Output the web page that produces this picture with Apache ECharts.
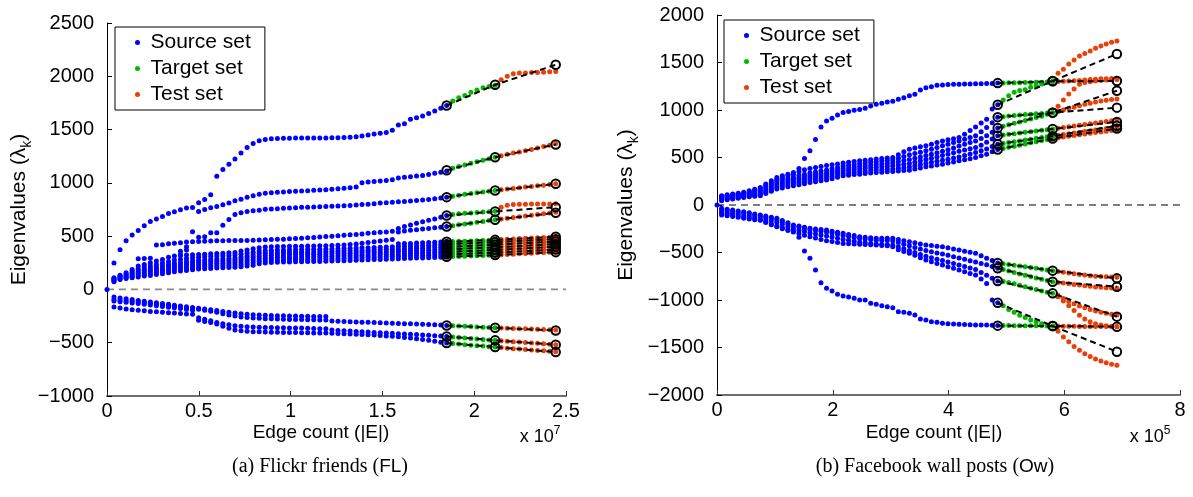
<!DOCTYPE html>
<html><head><meta charset="utf-8">
<script src="https://cdn.jsdelivr.net/npm/echarts@6/dist/echarts.min.js"></script>
<style>html,body{margin:0;padding:0;background:#fff}#c{width:1193px;height:497px}</style>
</head><body><div id="c"></div>
<script>
function pad(n, arr){ return Array(n).fill(null).concat(arr); }

// ---------------- (a) Flickr friends (FL) ----------------
const FL_SRC_X = [0.038,0.071,0.104,0.137,0.170,0.203,0.236,0.269,0.302,0.335,0.367,0.400,0.433,0.466,0.499,0.532,0.565,0.598,0.631,0.664,0.697,0.730,0.763,0.796,0.829,0.862,0.895,0.928,0.961,0.994,1.027,1.060,1.093,1.126,1.159,1.192,1.225,1.258,1.291,1.324,1.357,1.389,1.422,1.455,1.488,1.521,1.554,1.587,1.620,1.653,1.686,1.719,1.752,1.785,1.818,1.850];
const FL_TGT_X = [1.883,1.916,1.949,1.982,2.015,2.048,2.081,2.114];
const FL_TEST_X = [2.147,2.180,2.213,2.246,2.279,2.312,2.345,2.378,2.411,2.444];
const FL_PRED_X = [1.850,2.114,2.444];

const FL_L1_SRC = [247,372,457,510,553,597,638,660,685,713,728,747,763,769,813,844,888,1063,1125,1175,1225,1281,1331,1369,1394,1406,1413,1416,1418,1419,1420,1420,1421,1421,1422,1422,1423,1424,1425,1428,1432,1440,1450,1458,1465,1472,1494,1544,1555,1597,1612,1628,1650,1675,1700,1725];
const FL_L1_TGT = [1767,1798,1820,1850,1872,1892,1905,1915];
const FL_L1_TEST = [1967,2001,2023,2030,2030,2036,2036,2039,2042,2045];
const FL_L1_PRED = [1726,1920,2108];

const FL_L2_SRC = pad(14,[732,750,766,779,794,810,831,847,866,878,894,903,906,912,915,918,921,924,927,930,933,936,940,944,950,955,960,1000,1007,1012,1017,1022,1030,1045,1052,1058,1064,1070,1078,1090,1100,1112]);
const FL_L2_TGT = [1138,1153,1168,1183,1198,1212,1226,1240];
const FL_L2_TEST = [1255,1268,1280,1290,1302,1314,1326,1340,1354,1366];
const FL_L2_PRED = [1118,1241,1360];

const FL_L3_SRC = pad(11,[359,400,541,490,494,531,531,603,656,703,719,731,738,744,752,755,758,761,764,767,770,772,774,776,778,780,782,785,788,792,796,800,805,810,814,818,822,826,830,835,840,845,851,858,866]);
const FL_L3_TGT = [875,884,892,900,908,915,922,929];
const FL_L3_TEST = [936,942,948,954,960,966,972,978,985,992];
const FL_L3_PRED = [866,929,991];

const FL_G_SRC = pad(11,[328,369]);

const FL_L4_SRC = pad(4,[288,290,292,416,419,428,434,438,444,447,450,453,455,456,457,458,458,459,460,462,464,466,468,470,472,475,478,481,484,488,492,496,500,504,508,512,516,521,526,531,536,540,545,572,590,605,620,634,648,662,678,694]);
const FL_L4_TGT = [704,710,714,718,722,726,730,734];
const FL_L4_TEST = [770,790,797,800,800,801,801,802,802,803];
const FL_L4_PRED = [694,732,772];

const FL_L5_SRC = [109,134,156,188,219,234,250,266,281,303,313,319,322,325,328,331,334,337,340,343,346,360,369,381,391,397,400,402,403,404,405,406,407,408,409,410,412,415,418,422,426,433,440,447,454,461,469,540,548,555,560,566,572,578,584,590];
const FL_L5_TGT = [598,606,614,622,630,638,646,654];
const FL_L5_TEST = [662,669,676,683,690,697,704,711,718,725];
const FL_L5_PRED = [590,654,719];

const FL_B1_SRC = [72,94,103,109,116,125,131,141,147,156,166,172,178,184,191,194,197,200,203,206,209,213,219,228,241,247,253,255,257,258,259,260,261,262,263,264,266,268,270,272,274,276,278,280,282,284,286,288,290,292,294,296,298,300,303,306];
const FL_B1_TGT = [308,310,312,314,316,318,320,322];
const FL_B1_TEST = [325,328,331,334,337,340,343,346,349,352];
const FL_B1_PRED = [306,322,350];
const FL_B2_SRC = [80,100,112,120,130,140,148,158,166,176,186,193,199,205,211,215,219,222,225,228,231,235,242,252,264,270,275,277,279,281,282,283,284,285,286,287,289,291,293,295,297,299,301,303,305,307,309,311,313,315,317,319,321,323,326,329];
const FL_B2_TGT = [331,333,335,337,339,341,343,345];
const FL_B2_TEST = [348,351,355,358,362,365,369,372,375,378];
const FL_B2_PRED = [329,345,375];
const FL_B3_SRC = [88,108,122,133,145,156,165,175,184,195,205,213,220,226,232,236,240,243,246,249,252,257,265,276,288,293,297,299,301,303,304,305,306,307,308,309,311,313,315,317,319,321,323,325,327,329,331,333,335,337,339,341,343,346,349,352];
const FL_B3_TGT = [354,356,358,361,363,365,368,370];
const FL_B3_TEST = [373,376,380,384,388,391,395,399,402,405];
const FL_B3_PRED = [352,370,400];
const FL_B4_SRC = [95,116,132,146,160,172,182,192,202,214,226,234,241,247,253,257,261,264,267,270,274,280,288,300,312,317,320,322,324,326,327,328,329,330,331,332,334,336,338,340,342,344,346,348,350,352,354,356,358,360,362,364,367,370,373,376];
const FL_B4_TGT = [378,381,383,386,388,390,393,395];
const FL_B4_TEST = [398,402,406,410,414,418,421,424,427,430];
const FL_B4_PRED = [376,395,425];
const FL_B5_SRC = [102,124,144,160,176,190,200,211,222,234,246,255,262,268,274,278,282,285,288,291,296,303,312,324,336,340,343,345,347,348,349,350,351,352,353,354,356,358,360,362,364,366,368,370,372,374,376,378,380,382,384,387,390,393,396,399];
const FL_B5_TGT = [402,404,407,410,412,415,418,420];
const FL_B5_TEST = [424,428,432,436,440,444,447,450,453,456];
const FL_B5_PRED = [399,420,450];
const FL_B6_SRC = pad(3,[172,195,210,222,235,248,262,276,284,291,297,302,306,310,313,316,319,324,330,340,350,360,364,367,369,371,372,373,374,375,376,377,378,380,382,384,386,388,390,392,394,396,398,400,402,404,406,408,411,414,417,420,423]);
const FL_B6_TGT = [426,429,431,434,437,440,442,445];
const FL_B6_TEST = [449,453,457,461,464,467,470,472,474,476];
const FL_B6_PRED = [423,445,472];
const FL_B7_SRC = pad(47,[428,430,432,435,437,440,442,445,447]);
const FL_B7_TGT = [449,451,453,455,457,459,462,465];
const FL_B7_TEST = [468,471,474,477,480,483,485,487,489,491];
const FL_B7_PRED = [447,465,494];

const FL_N1_SRC = [-72,-80,-88,-95,-103,-110,-117,-124,-131,-140,-148,-155,-162,-170,-176,-183,-190,-198,-206,-214,-222,-228,-233,-237,-240,-242,-244,-246,-248,-249,-250,-251,-252,-253,-254,-254];
const FL_N2_SRC = [-94,-100,-106,-112,-118,-124,-130,-136,-142,-150,-158,-166,-174,-180,-186,-195,-205,-215,-228,-240,-250,-258,-264,-268,-271,-274,-276,-278,-280,-281,-282,-283,-284,-285,-286,-287,-297,-299,-301,-303,-305,-307,-309,-311,-313,-315,-317,-319,-321,-323,-325,-327,-329,-331,-334,-338];
const FL_N2_TGT = [-340,-343,-346,-349,-352,-355,-358,-360];
const FL_N2_TEST = [-362,-364,-366,-368,-370,-372,-374,-376,-378,-380];
const FL_N2_PRED = [-338,-360,-385];
const FL_N3_SRC = [-109,-115,-121,-127,-133,-140,-147,-154,-160,-167,-173,-180,-188,-196,-265,-280,-295,-310,-322,-332,-340,-346,-350,-353,-355,-357,-358,-359,-360,-361,-362,-363,-364,-366,-368,-370,-380,-385,-388,-391,-394,-397,-400,-403,-406,-409,-412,-415,-418,-421,-424,-427,-430,-434,-438,-441];
const FL_N3_TGT = [-446,-451,-456,-461,-466,-471,-475,-478];
const FL_N3_TEST = [-482,-486,-490,-494,-498,-502,-506,-510,-514,-518];
const FL_N3_PRED = [-441,-478,-519];
const FL_N4_SRC = [-166,-175,-184,-190,-196,-201,-206,-210,-214,-218,-222,-226,-230,-234,-290,-300,-310,-325,-345,-365,-380,-388,-393,-396,-398,-400,-401,-402,-403,-404,-405,-406,-407,-408,-409,-410,-412,-414,-416,-418,-420,-422,-425,-428,-432,-436,-440,-445,-450,-455,-462,-470,-478,-486,-495,-503];
const FL_N4_TGT = [-508,-513,-518,-523,-528,-532,-537,-541];
const FL_N4_TEST = [-546,-551,-556,-560,-564,-568,-572,-576,-580,-584];
const FL_N4_PRED = [-503,-541,-588];

const FL_TRACKS = [
  [FL_L1_SRC,FL_L1_TGT,FL_L1_TEST,FL_L1_PRED],
  [FL_L2_SRC,FL_L2_TGT,FL_L2_TEST,FL_L2_PRED],
  [FL_L3_SRC,FL_L3_TGT,FL_L3_TEST,FL_L3_PRED],
  [FL_G_SRC,null,null,null],
  [FL_L4_SRC,FL_L4_TGT,FL_L4_TEST,FL_L4_PRED],
  [FL_L5_SRC,FL_L5_TGT,FL_L5_TEST,FL_L5_PRED],
  [FL_B1_SRC,FL_B1_TGT,FL_B1_TEST,FL_B1_PRED],
  [FL_B2_SRC,FL_B2_TGT,FL_B2_TEST,FL_B2_PRED],
  [FL_B3_SRC,FL_B3_TGT,FL_B3_TEST,FL_B3_PRED],
  [FL_B4_SRC,FL_B4_TGT,FL_B4_TEST,FL_B4_PRED],
  [FL_B5_SRC,FL_B5_TGT,FL_B5_TEST,FL_B5_PRED],
  [FL_B6_SRC,FL_B6_TGT,FL_B6_TEST,FL_B6_PRED],
  [FL_B7_SRC,FL_B7_TGT,FL_B7_TEST,FL_B7_PRED],
  [FL_N1_SRC,null,null,null],
  [FL_N2_SRC,FL_N2_TGT,FL_N2_TEST,FL_N2_PRED],
  [FL_N3_SRC,FL_N3_TGT,FL_N3_TEST,FL_N3_PRED],
  [FL_N4_SRC,FL_N4_TGT,FL_N4_TEST,FL_N4_PRED]
];

// ---------------- (b) Facebook wall posts (Ow) ----------------
const OW_SRC_X = [0.080,0.175,0.271,0.366,0.462,0.557,0.652,0.748,0.843,0.939,1.034,1.129,1.225,1.320,1.416,1.511,1.606,1.702,1.797,1.893,1.988,2.083,2.179,2.274,2.370,2.465,2.560,2.656,2.751,2.847,2.942,3.037,3.133,3.228,3.324,3.419,3.514,3.610,3.705,3.801,3.896,3.991,4.087,4.182,4.278,4.373,4.468,4.564,4.659,4.755,4.850];
const OW_TGT_X = [4.945,5.040,5.135,5.230,5.325,5.420,5.515,5.610,5.705,5.800];
const OW_TEST_X = [5.893,5.985,6.078,6.170,6.263,6.355,6.448,6.540,6.633,6.725,6.818,6.910];
const OW_PRED_X = [4.850,5.800,6.910];

const OW_RA_SRC = [98,108,116,125,133,150,167,185,220,255,290,308,325,343,385,490,570,690,822,885,913,948,973,983,997,1004,1018,1043,1060,1071,1085,1092,1113,1130,1151,1165,1211,1235,1246,1260,1263,1268,1270,1272,1274,1275,1276,1277,1278,1280,1283];
const OW_RA_TGT = [1284,1286,1287,1288,1289,1290,1291,1293,1296,1300];
const OW_RA_TEST = [1300,1302,1305,1308,1311,1315,1320,1325,1328,1330,1332,1333];
const OW_RA_PRED = [1283,1302,1305];

const OW_P6_SRC = [90,100,108,116,124,140,156,172,205,238,270,290,308,325,350,370,385,395,405,415,425,432,441,449,457,465,471,477,483,489,495,500,530,560,588,600,612,623,640,658,675,686,698,710,745,785,822,862,903,1010,1055];
const OW_P6_TGT = [1105,1150,1186,1204,1214,1239,1256,1274,1291,1305];
const OW_P6_TEST = [1386,1428,1484,1526,1568,1596,1621,1649,1673,1695,1712,1726];
const OW_P6_PRED = [1055,1305,1590];

const OW_P5_SRC = [86,94,102,110,118,130,142,155,186,220,256,268,280,292,310,325,338,348,358,368,382,396,410,418,426,435,442,449,456,462,468,474,492,510,528,542,556,570,588,606,623,640,658,675,692,710,728,770,815,865,925];
const OW_P5_TGT = [930,936,942,947,952,956,960,964,968,972];
const OW_P5_TEST = [1040,1105,1168,1221,1270,1290,1298,1305,1310,1315,1318,1320];
const OW_P5_PRED = [925,972,1025];

const OW_P4_SRC = [76,84,92,100,108,118,128,138,168,200,234,246,258,270,285,298,310,320,330,340,354,368,382,390,398,405,412,419,426,432,438,444,455,468,480,493,506,520,535,550,565,582,600,620,640,658,675,700,730,765,810];
const OW_P4_TGT = [830,845,860,875,890,905,920,935,955,972];
const OW_P4_TEST = [985,1000,1015,1030,1045,1060,1072,1085,1095,1103,1110,1115];
const OW_P4_PRED = [810,972,1203];

const OW_P3_SRC = [66,74,82,90,98,106,114,122,150,180,212,224,236,248,262,274,286,296,306,316,330,344,358,365,372,380,386,392,398,403,408,413,420,428,436,450,465,480,493,506,520,535,550,565,580,592,605,630,660,695,730];
const OW_P3_TGT = [737,744,751,758,765,772,779,786,793,800];
const OW_P3_TEST = [808,816,824,832,840,848,856,864,872,880,888,896];
const OW_P3_PRED = [730,800,875];

const OW_P2_SRC = [56,64,72,80,88,95,102,110,135,162,190,202,214,226,238,250,262,271,280,289,303,318,332,338,344,350,356,362,368,372,376,380,386,393,400,413,426,440,450,460,470,482,494,506,520,536,553,570,590,615,640];
const OW_P2_TGT = [648,657,666,675,684,693,702,710,718,725];
const OW_P2_TEST = [733,741,749,757,765,773,781,789,797,805,813,820];
const OW_P2_PRED = [640,725,835];

const OW_P1_SRC = [46,55,63,72,80,86,92,98,120,145,168,180,192,203,213,225,238,246,254,262,277,292,308,314,320,325,331,337,343,346,350,353,357,362,367,378,390,402,411,420,430,442,453,465,477,488,500,518,535,560,585];
const OW_P1_TGT = [596,607,618,630,642,654,666,678,690,700];
const OW_P1_TEST = [708,716,724,732,740,748,755,762,769,776,783,790];
const OW_P1_PRED = [585,700,805];

const OW_Q1_SRC = [-35,-44,-53,-62,-70,-82,-94,-105,-117,-128,-140,-163,-187,-210,-222,-234,-246,-252,-258,-263,-275,-287,-298,-310,-322,-333,-339,-345,-351,-351,-351,-351,-363,-375,-386,-398,-410,-421,-427,-433,-439,-451,-463,-474,-486,-498,-509,-535,-561,-585,-610];
const OW_Q1_TGT = [-618,-626,-634,-642,-650,-658,-667,-675,-683,-691];
const OW_Q1_TEST = [-700,-708,-716,-724,-731,-738,-744,-749,-753,-756,-758,-760];
const OW_Q1_PRED = [-610,-691,-772];

const OW_Q2_SRC = [-50,-58,-66,-74,-82,-93,-104,-115,-128,-141,-155,-177,-199,-222,-235,-248,-260,-268,-276,-284,-296,-308,-320,-331,-342,-352,-358,-364,-370,-372,-374,-377,-395,-413,-430,-447,-463,-480,-492,-504,-516,-530,-544,-558,-572,-586,-600,-615,-630,-648,-665];
const OW_Q2_TGT = [-680,-695,-710,-725,-740,-755,-768,-781,-794,-807];
const OW_Q2_TEST = [-815,-822,-829,-836,-843,-850,-856,-862,-867,-871,-874,-877];
const OW_Q2_PRED = [-665,-807,-860];

const OW_Q3_SRC = [-70,-78,-86,-94,-105,-116,-127,-138,-152,-167,-182,-205,-228,-250,-265,-280,-295,-305,-315,-325,-337,-350,-362,-372,-382,-392,-398,-404,-410,-414,-418,-422,-440,-460,-480,-500,-520,-540,-555,-570,-585,-600,-616,-632,-648,-664,-680,-710,-740,-770,-800];
const OW_Q3_TGT = [-805,-815,-830,-845,-860,-875,-890,-905,-918,-930];
const OW_Q3_TEST = [-965,-1010,-1060,-1110,-1160,-1200,-1230,-1250,-1262,-1270,-1275,-1278];
const OW_Q3_PRED = [-800,-930,-1175];
const OW_Q3B_TEST = [-950,-985,-1015,-1040,-1062,-1082,-1100,-1115,-1128,-1140,-1150,-1158];

const OW_Q4_SRC = [-90,-98,-106,-114,-125,-135,-145,-155,-175,-200,-222,-240,-258,-275,-300,-318,-333,-348,-362,-375,-385,-394,-404,-408,-411,-414,-417,-419,-421,-425,-430,-439,-470,-490,-509,-530,-555,-579,-597,-615,-632,-650,-667,-684,-702,-720,-737,-780,-825,-1000,-1030];
const OW_Q4_TGT = [-1060,-1100,-1130,-1160,-1185,-1210,-1230,-1250,-1265,-1274];
const OW_Q4_TEST = [-1330,-1390,-1440,-1490,-1530,-1565,-1595,-1620,-1643,-1660,-1675,-1688];
const OW_Q4_PRED = [-1030,-1274,-1544];

const OW_RN_SRC = [-105,-112,-120,-130,-140,-148,-155,-160,-185,-208,-230,-250,-268,-285,-340,-484,-561,-684,-818,-877,-905,-940,-958,-968,-982,-1000,-1000,-1035,-1046,-1060,-1070,-1081,-1123,-1130,-1140,-1158,-1200,-1211,-1228,-1235,-1246,-1249,-1253,-1256,-1258,-1260,-1262,-1263,-1264,-1265,-1268];
const OW_RN_TGT = [-1268,-1269,-1270,-1270,-1271,-1271,-1272,-1272,-1273,-1274];
const OW_RN_TEST = [-1275,-1276,-1277,-1277,-1278,-1278,-1279,-1279,-1280,-1280,-1281,-1281];
const OW_RN_PRED = [-1270,-1274,-1281];

const OW_TRACKS = [
  [OW_RA_SRC,OW_RA_TGT,OW_RA_TEST,OW_RA_PRED],
  [OW_P6_SRC,OW_P6_TGT,OW_P6_TEST,OW_P6_PRED],
  [OW_P5_SRC,OW_P5_TGT,OW_P5_TEST,OW_P5_PRED],
  [OW_P4_SRC,OW_P4_TGT,OW_P4_TEST,OW_P4_PRED],
  [OW_P3_SRC,OW_P3_TGT,OW_P3_TEST,OW_P3_PRED],
  [OW_P2_SRC,OW_P2_TGT,OW_P2_TEST,OW_P2_PRED],
  [OW_P1_SRC,OW_P1_TGT,OW_P1_TEST,OW_P1_PRED],
  [OW_Q1_SRC,OW_Q1_TGT,OW_Q1_TEST,OW_Q1_PRED],
  [OW_Q2_SRC,OW_Q2_TGT,OW_Q2_TEST,OW_Q2_PRED],
  [OW_Q3_SRC,OW_Q3_TGT,OW_Q3_TEST,OW_Q3_PRED],
  [null,null,OW_Q3B_TEST,null],
  [OW_Q4_SRC,OW_Q4_TGT,OW_Q4_TEST,OW_Q4_PRED],
  [OW_RN_SRC,OW_RN_TGT,OW_RN_TEST,OW_RN_PRED]
];

const FL_X_TICKS = {min:0, max:2.5, interval:0.5};
const FL_Y_TICKS = {min:-1000, max:2500, interval:500};
const OW_X_TICKS = {min:0, max:8, interval:2};
const OW_Y_TICKS = {min:-2000, max:2000, interval:500};

// ---------------- build ----------------
const SANS = "'Liberation Sans', Arial, Helvetica, sans-serif";
const SERIF = "'Liberation Serif', 'DejaVu Serif', serif";
const C_SRC = '#0000ff', C_TGT = '#00b800', C_TEST = '#e8400a';

function pts(xs, ys){ const out=[]; if(!ys) return out; for(let i=0;i<ys.length;i++){ if(ys[i]!=null) out.push([xs[i], ys[i]]); } return out; }

function panelSeries(idx, tracks, sx, tx, ex, px, xmax, zeroStyle){
  const src=[[0,0]], tgt=[], test=[], series=[];
  tracks.forEach(t=>{
    src.push(...pts(sx,t[0])); tgt.push(...pts(tx,t[1])); test.push(...pts(ex,t[2]));
  });
  series.push({type:'line', xAxisIndex:idx, yAxisIndex:idx, data:[[0,0],[xmax,0]], symbol:'none', silent:true, z:1, lineStyle:zeroStyle, animation:false});
  const dot = (name,color,data)=>({name, type:'scatter', xAxisIndex:idx, yAxisIndex:idx, data, symbol:'circle', symbolSize:5, itemStyle:{color, opacity:1}, z:3, silent:true, animation:false});
  series.push(dot('Source set',C_SRC,src), dot('Target set',C_TGT,tgt), dot('Test set',C_TEST,test));
  tracks.forEach(t=>{
    if(!t[3]) return;
    series.push({type:'line', xAxisIndex:idx, yAxisIndex:idx, data:pts(px,t[3]), symbol:'circle', symbolSize:8.5, showSymbol:true,
      itemStyle:{color:'rgba(0,0,0,0)', borderColor:'#000', borderWidth:2},
      lineStyle:{color:'#000', width:2, type:[6,4]}, z:5, silent:true, animation:false});
  });
  return series;
}

const minus = v => String(v).replace('-', '\u2212');
function xAxis(idx, t){ return {gridIndex:idx, type:'value', min:t.min, max:t.max, interval:t.interval,
  axisLine:{show:true, onZero:false, lineStyle:{color:'#6e6e6e', width:2}}, axisTick:{show:true, inside:true, length:5, lineStyle:{color:'#333'}},
  axisLabel:{fontFamily:SANS, fontSize:20, color:'#000', margin:5, formatter:minus}, splitLine:{show:false}}; }
function yAxis(idx, t, gap){ return {gridIndex:idx, type:'value', min:t.min, max:t.max, interval:t.interval,
  name:'{n|Eigenvalues (}{n|\u03bb}{k|k}{n|)}', nameLocation:'middle', nameGap:gap, nameRotate:90,
  nameTextStyle:{rich:{n:{fontFamily:SANS, fontSize:21, color:'#000', lineHeight:30}, k:{fontFamily:SANS, fontSize:14, color:'#000', verticalAlign:'bottom', lineHeight:30}}},
  axisLine:{show:true, onZero:false, lineStyle:{color:'#000', width:1}}, axisTick:{show:true, inside:true, length:5, lineStyle:{color:'#000'}},
  axisLabel:{fontFamily:SANS, fontSize:20, color:'#000', margin:13, formatter:minus}, splitLine:{show:false}}; }

function legend(left, top){ return {data:['Source set','Target set','Test set'], orient:'vertical', left, top, icon:'circle',
  itemWidth:16, itemHeight:5, itemGap:5, selectedMode:false, backgroundColor:'#fff', borderColor:'#000', borderWidth:1, padding:[5,14,5,20],
  textStyle:{fontFamily:SANS, fontSize:21, color:'#000', lineHeight:20}}; }

function txt(x, y, text, rich){ return {type:'text', x, y, silent:true, style:{text, rich, align:'center', verticalAlign:'middle', textAlign:'center', textVerticalAlign:'middle'}}; }
const nameRich = {a:{fontFamily:SANS, fontSize:19, color:'#000'}};
const expRich = {a:{fontFamily:SANS, fontSize:18, color:'#000', lineHeight:24}, s:{fontFamily:SANS, fontSize:12, color:'#000', verticalAlign:'top', lineHeight:24}};
const capRich = {s:{fontFamily:SERIF, fontSize:20, color:'#000'}, f:{fontFamily:SANS, fontSize:19, color:'#000'}};

const option = {
  backgroundColor:'#fff', animation:false,
  grid:[{left:107, top:23, width:459, height:373}, {left:717, top:15, width:463, height:380}],
  xAxis:[xAxis(0,FL_X_TICKS), xAxis(1,OW_X_TICKS)],
  yAxis:[yAxis(0,FL_Y_TICKS,72), yAxis(1,OW_Y_TICKS,76)],
  legend:[legend(115,27), legend(724,20)],
  series:[].concat(
    panelSeries(0, FL_TRACKS, FL_SRC_X, FL_TGT_X, FL_TEST_X, FL_PRED_X, 2.5, {color:'#8a8a8a', width:1.8, type:[7,5]}),
    panelSeries(1, OW_TRACKS, OW_SRC_X, OW_TGT_X, OW_TEST_X, OW_PRED_X, 8, {color:'#000', width:1.2, type:[7,5]})
  ),
  graphic:[
    txt(321, 433, '{a|Edge count (|E|)}', nameRich),
    txt(934, 433, '{a|Edge count (|E|)}', nameRich),
    txt(540, 437, '{a|x 10}{s|7}', expRich),
    txt(1150, 437, '{a|x 10}{s|5}', expRich),
    txt(320, 467, '{s|(a) Flickr friends (}{f|FL}{s|)}', capRich),
    txt(935, 467, '{s|(b) Facebook wall posts (}{f|Ow}{s|)}', capRich)
  ]
};
const chart = echarts.init(document.getElementById('c'), null, {renderer:'canvas'});
chart.setOption(option);
</script></body></html>
